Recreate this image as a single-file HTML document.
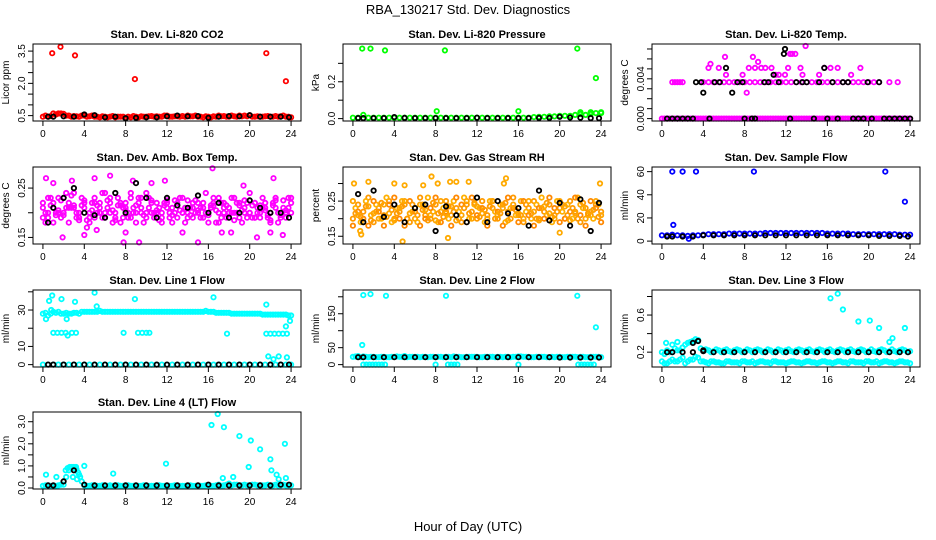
<!DOCTYPE html>
<html><head><meta charset="utf-8"><title>RBA_130217 Std. Dev. Diagnostics</title>
<style>
html,body{margin:0;padding:0;background:#fff;}
svg{display:block;font-family:"Liberation Sans",Arial,sans-serif;}
</style></head>
<body>
<svg id="chart" width="936" height="540" viewBox="0 0 936 540" xmlns="http://www.w3.org/2000/svg">
<rect x="0" y="0" width="936" height="540" fill="#fff"/>
<text x="468" y="14" text-anchor="middle" font-size="13">RBA_130217  Std. Dev. Diagnostics</text>
<text x="468" y="531" text-anchor="middle" font-size="13">Hour of Day (UTC)</text>
</svg>
<script>
// shared hour arrays
const hoursHalf = [0,0.5,1,1.5,2,2.5,3,3.5,4,4.5,5,5.5,6,6.5,7,7.5,8,8.5,9,9.5,10,10.5,11,11.5,12,12.5,13,13.5,14,14.5,15,15.5,16,16.5,17,17.5,18,18.5,19,19.5,20,20.5,21,21.5,22,22.5,23,23.5,24];
const hoursQ = [0.25,0.75,1.25,1.75,2.25,2.75,3.25,3.75,4.25,4.75,5.25,5.75,6.25,6.75,7.25,7.75,8.25,8.75,9.25,9.75,10.25,10.75,11.25,11.75,12.25,12.75,13.25,13.75,14.25,14.75,15.25,15.75,16.25,16.75,17.25,17.75,18.25,18.75,19.25,19.75,20.25,20.75,21.25,21.75,22.25,22.75,23.25,23.75];
const hoursHour = [0.5,1,2,3,4,5,6,7,8,9,10,11,12,13,14,15,16,17,18,19,20,21,22,23,23.8];
const xTicks = [0,4,8,12,16,20,24];

// P1 CO2
const co2Red = [0.45,0.45,0.6,0.6,0.58,0.5,0.48,0.45,0.5,0.47,0.45,0.42,0.45,0.45,0.42,0.45,0.4,0.42,0.45,0.47,0.45,0.48,0.47,0.45,0.5,0.45,0.47,0.48,0.5,0.47,0.45,0.42,0.45,0.47,0.5,0.48,0.45,0.47,0.5,0.5,0.52,0.45,0.45,0.47,0.45,0.48,0.47,0.45,0.42];
const co2Red2 = [0.5,0.48,0.55,0.6,0.5,0.45,0.47,0.5,0.45,0.5,0.45,0.47,0.42,0.48,0.45,0.45,0.45,0.48,0.42,0.45,0.47,0.45,0.45,0.5,0.45,0.47,0.45,0.45,0.47,0.5,0.45,0.47,0.42,0.45,0.47,0.45,0.5,0.45,0.47,0.47,0.45,0.47,0.45,0.48,0.45,0.45,0.5,0.45];
const co2OutX = [0.9,1.7,3.1,8.9,21.6,23.5];
const co2OutY = [3.4,3.7,3.3,2.2,3.4,2.1];
const co2Black = [0.45,0.45,0.47,0.45,0.55,0.52,0.42,0.45,0.38,0.4,0.42,0.42,0.47,0.5,0.47,0.48,0.4,0.45,0.48,0.47,0.52,0.45,0.45,0.45,0.42];

// P2 Pressure
const presGreen = [0.005,0.005,0.02,0.005,0.005,0.005,0.005,0.005,0.005,0.005,0.005,0.005,0.005,0.005,0.005,0.005,0.005,0.005,0.005,0.005,0.005,0.005,0.005,0.005,0.005,0.005,0.005,0.005,0.005,0.005,0.005,0.005,0.005,0.005,0.005,0.008,0.01,0.01,0.012,0.012,0.015,0.015,0.015,0.02,0.025,0.02,0.025,0.03,0.03];
const presOutX = [0.9,1.7,3.1,8.1,8.9,16,21.7,23.5,22,23,24];
const presOutY = [0.38,0.38,0.37,0.04,0.37,0.04,0.38,0.22,0.035,0.035,0.035];
const presBlack = [0.003,0.003,0.003,0.003,0.008,0.004,0.003,0.003,0.003,0.003,0.003,0.003,0.005,0.003,0.003,0.003,0.003,0.003,0.004,0.004,0.01,0.006,0.005,0.003,0.002];

// P3 Temp
const tempMagZero = [0,0,0,0,0,0,0,0,0,0,0,0,0,0,0,0,0,0,0,0,0,0,0,0,0,0,0,0,0,0,0,0,0,0,0,0,0,0,0,0,0,0,0,0,0,0,0,0,0];
const tempMagZeroQ = [0,0,0,0,0,0,0,0,0,0,0,0,0,0,0,0,0,0,0,0,0,0,0,0,0,0,0,0,0,0,0,0,0,0,0,0,0,0,0,0,0,0,0,0,0,0,0,0];
const tempMagMidX = [1,1.25,1.5,1.75,2,4,4.5,5,5.5,6,6.5,7,7.5,8,8.5,9,9.5,10,10.5,11,11.5,12,12.5,13,13.5,14,14.5,15,15.5,16,16.5,17,17.5,18,18.5,19,19.5,20,20.5,21,22,22.8];
const tempMagMidY = [0.00366,0.00366,0.00366,0.00366,0.00366,0.00366,0.00366,0.00366,0.00366,0.00366,0.00366,0.00366,0.00366,0.00366,0.00366,0.00366,0.00366,0.00366,0.00366,0.00366,0.00366,0.00366,0.00366,0.00366,0.00366,0.00366,0.00366,0.00366,0.00366,0.00366,0.00366,0.00366,0.00366,0.00366,0.00366,0.00366,0.00366,0.00366,0.00366,0.00366,0.00366,0.00366];
const tempMagOutX = [4.5,4.7,5.5,6.1,6.2,7.8,8.2,8.4,8.8,9,9.3,9.6,10,10.6,11,11.3,11.9,12.2,12.4,12.6,12.9,13.4,13.6,13.9,15.2,15.7,16.3,17,18.3,19.2];
const tempMagOutY = [0.0051,0.0055,0.0051,0.0062,0.0044,0.0044,0.0026,0.0051,0.0062,0.0051,0.0057,0.0051,0.0051,0.0051,0.0044,0.0044,0.0044,0.0051,0.0065,0.0065,0.0065,0.0051,0.0044,0.0073,0.0044,0.0051,0.0051,0.0051,0.0044,0.0051];
const tempBlackX = [0.5,1,1.5,2,2.5,3,3.3,3.8,4,4.6,5.1,5.6,6.2,6.8,7.3,7.8,8,8.7,9,9.9,10.3,10.8,11.3,11.8,11.9,12.4,13,13.6,14,14.7,15.2,15.7,16,16.5,17,17.5,18,18.5,19,19.5,19.9,20.3,21,21.5,22,22.5,23,23.5,24];
const tempBlackY = [0,0,0,0,0,0,0.00366,0.00366,0.0026,0,0.00366,0.00366,0.0051,0.0026,0.00366,0.00366,0,0,0,0.00366,0.00366,0.0044,0.00366,0.0065,0.0070,0,0.00366,0.00366,0.00366,0,0.00366,0.0051,0,0.00366,0,0.00366,0.00366,0,0,0,0.00366,0,0.00366,0,0,0,0,0,0];

// P4 Box temp
const boxMag1 = [0.21,0.19,0.22,0.2,0.23,0.18,0.21,0.2,0.22,0.19,0.23,0.21,0.19,0.22,0.2,0.18,0.22,0.24,0.2,0.21,0.19,0.22,0.2,0.18,0.22,0.21,0.19,0.23,0.2,0.21,0.22,0.19,0.2,0.22,0.18,0.21,0.2,0.23,0.19,0.21,0.2,0.22,0.19,0.21,0.2,0.23,0.19,0.2,0.22];
const boxMag2 = [0.18,0.23,0.2,0.19,0.24,0.21,0.19,0.23,0.17,0.22,0.2,0.24,0.21,0.18,0.23,0.21,0.19,0.2,0.22,0.18,0.23,0.19,0.21,0.22,0.19,0.2,0.23,0.18,0.21,0.2,0.19,0.24,0.21,0.18,0.22,0.19,0.23,0.2,0.18,0.22,0.19,0.21,0.23,0.19,0.22,0.18,0.21,0.23];
const boxMag3 = [0.22,0.2,0.18,0.23,0.2,0.21,0.24,0.19,0.21,0.18,0.22,0.2,0.24,0.2,0.19,0.22,0.21,0.23,0.18,0.2,0.24,0.2,0.22,0.19,0.21,0.18,0.22,0.2,0.19,0.22,0.2,0.21,0.18,0.23,0.2,0.22,0.19,0.2,0.22,0.2,0.24,0.19,0.2,0.22,0.18,0.21,0.2,0.19,0.23];
const boxMag4 = [0.2,0.215,0.195,0.225,0.21,0.235,0.2,0.215,0.185,0.205,0.215,0.19,0.225,0.205,0.215,0.19,0.2,0.21,0.23,0.195,0.21,0.2,0.185,0.215,0.2,0.225,0.205,0.21,0.195,0.225,0.21,0.2,0.215,0.205,0.19,0.215,0.2,0.22,0.205,0.19,0.215,0.2,0.21,0.195,0.215,0.2,0.225,0.21];
const boxMag5 = [0.19,0.23,0.21,0.205,0.195,0.22,0.215,0.185,0.225,0.2,0.19,0.22,0.2,0.23,0.185,0.215,0.205,0.19,0.215,0.23,0.2,0.225,0.205,0.2,0.225,0.195,0.215,0.2,0.225,0.19,0.205,0.22,0.195,0.215,0.23,0.2,0.21,0.185,0.215,0.225,0.2,0.19,0.215,0.205,0.185,0.225,0.195,0.205,0.2];
const boxOutX = [0.3,1,2.8,5,6.5,7.8,8.7,9.3,10.5,11.8,15,16.4,18.2,19.4,20.7,22.3,23.2,1.9,4,5.2,8,13.5,17.3,22];
const boxOutY = [0.27,0.26,0.265,0.27,0.275,0.14,0.265,0.14,0.26,0.265,0.14,0.29,0.16,0.255,0.15,0.27,0.155,0.15,0.155,0.165,0.16,0.16,0.16,0.16];
const boxBlack = [0.18,0.21,0.23,0.25,0.2,0.195,0.19,0.24,0.2,0.26,0.23,0.19,0.23,0.215,0.21,0.235,0.2,0.22,0.19,0.2,0.225,0.21,0.2,0.2,0.19];

// P5 RH
const rhOr1 = [0.2,0.24,0.22,0.26,0.19,0.23,0.21,0.25,0.2,0.22,0.24,0.19,0.23,0.26,0.21,0.2,0.24,0.22,0.25,0.21,0.23,0.19,0.24,0.22,0.2,0.25,0.21,0.23,0.2,0.24,0.22,0.26,0.21,0.19,0.23,0.25,0.2,0.22,0.24,0.21,0.23,0.2,0.25,0.22,0.19,0.23,0.21,0.24,0.22];
const rhOr2 = [0.23,0.19,0.25,0.21,0.24,0.2,0.26,0.19,0.23,0.25,0.2,0.22,0.19,0.24,0.26,0.22,0.19,0.23,0.2,0.25,0.22,0.26,0.2,0.24,0.23,0.19,0.25,0.22,0.24,0.19,0.23,0.21,0.25,0.22,0.2,0.24,0.26,0.21,0.19,0.25,0.22,0.24,0.2,0.26,0.23,0.21,0.2,0.24];
const rhOr3 = [0.18,0.22,0.2,0.18,0.25,0.22,0.18,0.24,0.26,0.2,0.18,0.25,0.22,0.18,0.2,0.23,0.26,0.19,0.22,0.18,0.26,0.24,0.19,0.26,0.21,0.23,0.18,0.25,0.22,0.18,0.26,0.23,0.19,0.25,0.21,0.18,0.23,0.2,0.26,0.23,0.19,0.2,0.22,0.26,0.21,0.18,0.25,0.23,0.19];
const rhOr4 = [0.215,0.205,0.235,0.195,0.22,0.245,0.205,0.225,0.215,0.235,0.2,0.24,0.21,0.225,0.195,0.245,0.215,0.205,0.235,0.22,0.2,0.23,0.215,0.245,0.205,0.225,0.235,0.2,0.215,0.245,0.2,0.225,0.21,0.24,0.215,0.2,0.23,0.245,0.205,0.22,0.24,0.21,0.23,0.2,0.245,0.215,0.225,0.205];
const rhOr5 = [0.25,0.21,0.19,0.235,0.215,0.2,0.24,0.215,0.195,0.23,0.25,0.215,0.2,0.24,0.225,0.21,0.195,0.25,0.215,0.235,0.195,0.21,0.25,0.2,0.235,0.215,0.2,0.25,0.21,0.23,0.195,0.24,0.215,0.2,0.25,0.22,0.195,0.235,0.215,0.2,0.25,0.235,0.195,0.215,0.24,0.2,0.22,0.25,0.21];
const rhOutX = [0.1,0.7,0.8,1.5,4,5,6.8,7.6,8.2,9.4,10,11.2,14.8,14.6,20,23.9,4.8,9.2];
const rhOutY = [0.3,0.165,0.155,0.305,0.3,0.295,0.295,0.32,0.3,0.305,0.305,0.305,0.315,0.3,0.16,0.3,0.135,0.145];
const rhBlack = [0.27,0.19,0.28,0.205,0.24,0.19,0.23,0.24,0.165,0.235,0.21,0.19,0.26,0.19,0.25,0.215,0.23,0.18,0.28,0.195,0.245,0.18,0.255,0.165,0.245];

// P6 Sample flow
const flowBlue = [5,5,5.5,5,5,4.5,5,5,5.5,6,6,6,6,6.5,6.5,6.5,6.5,6.5,6.5,6.5,7,7,7,7,7,7,7,7,7,7,7,7,6.5,6.5,6.5,6.5,6.5,6,6,6,6,6,6,6,6,6,5.5,5.5,5.5];
const flowOutX = [1,1.1,2,3.3,8.9,21.6,23.5,2.6];
const flowOutY = [60,14,60,60,60,60,34,2];
const flowBlack = [4,4,4,4,5,5,5,5,5,5,5,5,5,5,5,5,5,5,5,5,5,4.5,4.5,4.5,4];

// P7 Line1
const l1Cyan = [28,27,29,29,28,28,28.5,28,29,29,29,29.5,29,29,29,29,29,29,29,29,29,29,29,29,29,29,29,29,29,29,29,29,29,29,28.5,28.5,28.5,28,28,28,28,28,28,27.5,27.5,27.5,27.5,27.5,27];
const l1CyanQ = [28.5,28,28.5,28,28.5,28,28.5,29,29,29,29,29,29,29,29,29,29,29,29,29,29,29,29,29,29,29,29,29,29,29,29,29.5,29,28.5,28.5,28.5,28,28,28,28,28,28,27.5,27.5,27.5,27.5,27.5,27];
const l1MidX = [1,1.4,1.8,2.2,2.4,2.8,3.2,9.2,9.6,10,10.3,21.6,22,22.4,22.8,23.2,23.6];
const l1MidY = [17.5,17.5,17.5,17.5,16,17.5,17.5,17.5,17.5,17.5,17.5,17,17,17,17,17,17];
const l1OutX = [0.6,0.9,1.8,3.1,5,5.2,7.8,8.9,16.5,17.8,21.6,21.8,22.3,22.8,23.5,23.6,23.9,0.8,2.3,0.3];
const l1OutY = [35,38,36,34.5,39.5,32,17.5,36,37,17,33,4.5,3,4.5,21,4,24,30,25,25];
const l1Black = [0,0,0,0,0,0,0,0,0,0,0,0,0,0,0,0,0,0,0,0,0,0,0,0,0];
const l1CyanZero = [0,0,0,0,0,0,0,0,0,0,0,0,0,0,0,0,0,0,0,0,0,0,0,0,0,0,0,0,0,0,0,0,0,0,0,0,0,0,0,0,0,0,0,0,0,0,0,0,0];

// P8 Line2
const l2Cyan = [23,25,24,22,23,22,23,22,23,23,25,23,23,22,23,23,22,23,23,22,23,22,23,23,23,22,23,23,23,22,23,23,24,23,23,22,23,23,22,22,23,22,23,23,23,22,23,23,22];
const l2CyanQ = [24,22,23,23,22,23,22,23,24,23,22,23,23,23,22,23,23,22,23,24,23,22,23,23,22,23,23,22,23,23,22,23,24,23,22,23,23,22,23,23,22,23,23,22,23,22,23,23];
const l2ZeroX = [1,1.3,1.6,1.9,2.2,2.5,2.8,3.1,9.2,9.5,9.8,10.1,16,21.8,22.1,22.4,22.7,23,23.3,8];
const l2ZeroY = [0,0,0,0,0,0,0,0,0,0,0,0,0,0,0,0,0,0,0,0];
const l2OutX = [1,0.9,1.7,3.2,9,21.7,23.5];
const l2OutY = [205,58,208,203,203,203,110];
const l2Black = [22,22,22,22,22,22,22,22,22,22,22,22,22,22,22,22,22,22,22,22,21,21,21,21,21];

// P9 Line3
const l3Cyan = [0.2,0.22,0.2,0.22,0.25,0.3,0.32,0.33,0.22,0.22,0.21,0.22,0.22,0.21,0.22,0.22,0.21,0.22,0.22,0.22,0.21,0.22,0.21,0.22,0.22,0.21,0.22,0.22,0.22,0.21,0.22,0.22,0.22,0.21,0.22,0.22,0.22,0.21,0.22,0.22,0.21,0.21,0.22,0.22,0.21,0.21,0.22,0.22,0.21];
const l3CyanQ = [0.18,0.2,0.24,0.22,0.28,0.31,0.34,0.24,0.23,0.2,0.23,0.2,0.23,0.2,0.23,0.2,0.23,0.2,0.23,0.2,0.23,0.2,0.23,0.2,0.23,0.2,0.23,0.2,0.23,0.2,0.23,0.2,0.23,0.2,0.23,0.2,0.23,0.2,0.23,0.2,0.23,0.2,0.23,0.2,0.23,0.2,0.23,0.2];
const l3Low = [0.08,0.1,0.1,0.12,0.08,0.12,0.15,0.1,0.09,0.1,0.09,0.08,0.1,0.09,0.09,0.1,0.09,0.1,0.09,0.1,0.09,0.1,0.09,0.09,0.09,0.1,0.09,0.09,0.1,0.09,0.09,0.1,0.09,0.09,0.1,0.09,0.1,0.09,0.09,0.1,0.09,0.1,0.09,0.1,0.09,0.09,0.1,0.09];
const l3Low2 = [0.1,0.08,0.12,0.1,0.14,0.1,0.12,0.14,0.1,0.08,0.1,0.09,0.08,0.1,0.09,0.08,0.1,0.09,0.08,0.1,0.09,0.08,0.1,0.09,0.08,0.1,0.09,0.08,0.1,0.09,0.08,0.1,0.09,0.08,0.1,0.09,0.08,0.1,0.09,0.08,0.1,0.09,0.08,0.1,0.09,0.08,0.1,0.09,0.08];
const l3OutX = [16.3,17,17.5,19,20.1,21,22,22.3,23.5,0.4,1,1.5];
const l3OutY = [0.78,0.83,0.66,0.53,0.54,0.46,0.31,0.35,0.46,0.3,0.28,0.31];
const l3Black = [0.2,0.2,0.2,0.2,0.21,0.2,0.2,0.2,0.2,0.2,0.2,0.2,0.2,0.2,0.2,0.2,0.2,0.2,0.2,0.2,0.2,0.2,0.2,0.2,0.2];
const l3BlackX = [3,3.5,4];
const l3BlackY = [0.3,0.32,0.22];

// P10 Line4
const l4Cyan = [0.1,0.12,0.1,0.12,0.15,0.8,0.95,0.6,0.12,0.1,0.12,0.1,0.1,0.12,0.12,0.1,0.1,0.1,0.1,0.1,0.1,0.1,0.1,0.1,0.1,0.1,0.1,0.1,0.1,0.1,0.1,0.1,0.12,0.1,0.15,0.12,0.2,0.15,0.12,0.15,0.12,0.15,0.12,0.12,0.1,0.15,0.12,0.12,0.12];
const l4CyanQ = [0.12,0.1,0.1,0.15,0.5,0.9,0.85,0.3,0.1,0.12,0.1,0.12,0.1,0.1,0.12,0.1,0.12,0.1,0.1,0.12,0.1,0.1,0.12,0.1,0.1,0.12,0.1,0.1,0.12,0.1,0.1,0.12,0.1,0.12,0.1,0.15,0.12,0.15,0.12,0.12,0.15,0.12,0.12,0.15,0.12,0.12,0.15,0.12];
const l4ClX = [2.2,2.4,2.6,2.8,3,3.2,3.4,3.6,2.9,3.3];
const l4ClY = [0.8,0.9,0.95,0.95,0.9,0.95,0.7,0.5,0.5,0.4];
const l4OutX = [0.3,1.3,4,6.8,11.9,16.3,16.9,17.4,17.5,18.4,19,19.9,20.1,21,22,22.1,22.6,22.8,23.4,23.5];
const l4OutY = [0.6,0.5,1.0,0.65,1.1,2.85,3.35,0.45,2.75,0.5,2.35,0.95,2.15,1.75,1.3,0.8,0.6,0.4,2.0,0.45];
const l4Black = [0.12,0.12,0.3,0.8,0.15,0.12,0.12,0.12,0.12,0.12,0.12,0.12,0.12,0.12,0.12,0.12,0.15,0.12,0.12,0.12,0.12,0.12,0.12,0.15,0.15];

const svg = document.getElementById('chart');
const NS = 'http://www.w3.org/2000/svg';
const colLeft = [33, 343, 652];
const rowTop = [44, 167, 290, 412];
const boxW = 268, boxH = 77;

function mk(tag, attrs, parent){
  const e = document.createElementNS(NS, tag);
  for (const k in attrs) e.setAttribute(k, attrs[k]);
  parent.appendChild(e);
  return e;
}

function panel(cfg){
  const L = colLeft[cfg.col], T = rowTop[cfg.row];
  const g = mk('g', {}, svg);
  
  
  const xs = v => L + (v + 0.96) / 25.92 * boxW;
  const ys = v => T + boxH - (v - cfg.ylo) / (cfg.yhi - cfg.ylo) * boxH;
  const t = mk('text', {x: L + boxW/2, y: T - 6, 'text-anchor': 'middle', 'font-size': 11, 'font-weight': 'bold'}, g);
  t.textContent = cfg.title;
  
  
  const yl = mk('text', {x: 0, y: 0, 'text-anchor': 'middle', 'font-size': 10, transform: `translate(${L-24},${T+boxH/2}) rotate(-90)`}, g);
  yl.textContent = cfg.ylab;
  
  
  cfg.series.forEach(s => {
    const sg = mk('g', {fill: 'none', stroke: s.c, 'stroke-width': 1.8}, g);
    
    
    s.x.forEach((xv, i) => {
      const c = mk('circle', {cx: xs(xv).toFixed(1), cy: ys(s.y[i]).toFixed(1), r: 2.2}, sg);
      
      
    });
  });
  const b = mk('rect', {x: L, y: T, width: boxW, height: boxH, fill: 'none', stroke: '#000', 'stroke-width': 1}, g);
  
  
  const xa = mk('g', {stroke: '#000', 'stroke-width': 1}, g);
  
  
  mk('line', {x1: xs(0), x2: xs(24), y1: T+boxH, y2: T+boxH}, xa);
  xTicks.forEach(v => {
    mk('line', {x1: xs(v), x2: xs(v), y1: T+boxH, y2: T+boxH+5}, xa);
    const tl = mk('text', {x: xs(v), y: T+boxH+16, 'text-anchor': 'middle', 'font-size': 10, stroke: 'none', fill: '#000'}, xa);
    tl.textContent = v;
    
    
  });
  const ya = mk('g', {stroke: '#000', 'stroke-width': 1}, g);
  
  
  const tk = cfg.ticks;
  mk('line', {x1: L, x2: L, y1: ys(tk[0]), y2: ys(tk[tk.length-1])}, ya);
  tk.forEach(v => mk('line', {x1: L-5, x2: L, y1: ys(v), y2: ys(v)}, ya));
  cfg.labels.forEach(v => {
    const tl = mk('text', {x: 0, y: 0, 'text-anchor': 'middle', 'font-size': 10, stroke: 'none', fill: '#000', transform: `translate(${L-8},${ys(v)}) rotate(-90)`}, ya);
    tl.textContent = v;
    
    
  });
}

panel({name:'panel-co2', col:0,row:0,title:'Stan. Dev. Li-820 CO2',ylab:'Licor ppm',ylo:0.25,yhi:3.83,
  ticks:[0.5,1,1.5,2,2.5,3,3.5],labels:['0.5','2.0','3.5'],
  series:[{n:'co2-red',c:'#ff0000',x:hoursHalf,y:co2Red},{n:'co2-red-2',c:'#ff0000',x:hoursQ,y:co2Red2},
          {n:'co2-outliers',c:'#ff0000',x:co2OutX,y:co2OutY},{n:'co2-black',c:'#000',x:hoursHour,y:co2Black}]});
panel({name:'panel-pressure', col:1,row:0,title:'Stan. Dev. Li-820 Pressure',ylab:'kPa',ylo:-0.013,yhi:0.405,
  ticks:[0,0.1,0.2,0.3],labels:['0.0','0.2'],
  series:[{n:'pressure-green',c:'#00ff00',x:hoursHalf,y:presGreen},{n:'pressure-outliers',c:'#00ff00',x:presOutX,y:presOutY},
          {n:'pressure-black',c:'#000',x:hoursHour,y:presBlack}]});
panel({name:'panel-temp', col:2,row:0,title:'Stan. Dev. Li-820 Temp.',ylab:'degrees C',ylo:-0.00024,yhi:0.0075,
  ticks:[0,0.001,0.002,0.003,0.004,0.005,0.006,0.007],labels:['0.000','0.004'],
  series:[{n:'temp-magenta-zero',c:'#ff00ff',x:hoursHalf,y:tempMagZero},{n:'temp-magenta-zero-q',c:'#ff00ff',x:hoursQ,y:tempMagZeroQ},
          {n:'temp-magenta-mid',c:'#ff00ff',x:tempMagMidX,y:tempMagMidY},
          {n:'temp-magenta-outliers',c:'#ff00ff',x:tempMagOutX,y:tempMagOutY},{n:'temp-black',c:'#000',x:tempBlackX,y:tempBlackY}]});
panel({name:'panel-box-temp', col:0,row:1,title:'Stan. Dev. Amb. Box Temp.',ylab:'degrees C',ylo:0.1367,yhi:0.2927,
  ticks:[0.15,0.2,0.25],labels:['0.15','0.25'],
  series:[{n:'box-magenta-1',c:'#ff00ff',x:hoursHalf,y:boxMag1},{n:'box-magenta-2',c:'#ff00ff',x:hoursQ,y:boxMag2},
          {n:'box-magenta-3',c:'#ff00ff',x:hoursHalf,y:boxMag3},{n:'box-magenta-4',c:'#ff00ff',x:hoursQ,y:boxMag4},
          {n:'box-magenta-5',c:'#ff00ff',x:hoursHalf,y:boxMag5},{n:'box-magenta-outliers',c:'#ff00ff',x:boxOutX,y:boxOutY},
          {n:'box-black',c:'#000',x:hoursHour,y:boxBlack}]});
panel({name:'panel-rh', col:1,row:1,title:'Stan. Dev. Gas Stream RH',ylab:'percent',ylo:0.128,yhi:0.347,
  ticks:[0.15,0.2,0.25,0.3],labels:['0.15','0.25'],
  series:[{n:'rh-orange-1',c:'#ff9a00',x:hoursHalf,y:rhOr1},{n:'rh-orange-2',c:'#ffb000',x:hoursQ,y:rhOr2},
          {n:'rh-orange-3',c:'#ff8800',x:hoursHalf,y:rhOr3},{n:'rh-orange-4',c:'#ff9a00',x:hoursQ,y:rhOr4},
          {n:'rh-orange-5',c:'#ffa500',x:hoursHalf,y:rhOr5},{n:'rh-outliers',c:'#ffaa00',x:rhOutX,y:rhOutY},
          {n:'rh-black',c:'#000',x:hoursHour,y:rhBlack}]});
panel({name:'panel-sample-flow', col:2,row:1,title:'Stan. Dev. Sample Flow',ylab:'ml/min',ylo:-2.5,yhi:64,
  ticks:[0,20,40,60],labels:['0','20','40','60'],
  series:[{n:'sample-blue',c:'#0000ff',x:hoursHalf,y:flowBlue},{n:'sample-blue-outliers',c:'#0000ff',x:flowOutX,y:flowOutY},
          {n:'sample-black',c:'#000',x:hoursHour,y:flowBlack}]});
panel({name:'panel-line1', col:0,row:2,title:'Stan. Dev. Line 1 Flow',ylab:'ml/min',ylo:-1.3,yhi:41,
  ticks:[0,10,20,30,40],labels:['0','10','30'],
  series:[{n:'line1-cyan',c:'#00ffff',x:hoursHalf,y:l1Cyan},{n:'line1-cyan-q',c:'#00ffff',x:hoursQ,y:l1CyanQ},
          {n:'line1-cyan-mid',c:'#00ffff',x:l1MidX,y:l1MidY},
          {n:'line1-cyan-zero',c:'#00ffff',x:hoursHalf,y:l1CyanZero},{n:'line1-outliers',c:'#00ffff',x:l1OutX,y:l1OutY},
          {n:'line1-black',c:'#000',x:hoursHour,y:l1Black}]});
panel({name:'panel-line2', col:1,row:2,title:'Stan. Dev. Line 2 Flow',ylab:'ml/min',ylo:-7,yhi:220,
  ticks:[0,50,100,150,200],labels:['0','50','150'],
  series:[{n:'line2-cyan',c:'#00ffff',x:hoursHalf,y:l2Cyan},{n:'line2-cyan-q',c:'#00ffff',x:hoursQ,y:l2CyanQ},
          {n:'line2-cyan-zero',c:'#00ffff',x:l2ZeroX,y:l2ZeroY},
          {n:'line2-outliers',c:'#00ffff',x:l2OutX,y:l2OutY},{n:'line2-black',c:'#000',x:hoursHour,y:l2Black}]});
panel({name:'panel-line3', col:2,row:2,title:'Stan. Dev. Line 3 Flow',ylab:'ml/min',ylo:0.04,yhi:0.87,
  ticks:[0.2,0.4,0.6,0.8],labels:['0.2','0.6'],
  series:[{n:'line3-cyan',c:'#00ffff',x:hoursHalf,y:l3Cyan},{n:'line3-cyan-q',c:'#00ffff',x:hoursQ,y:l3CyanQ},
          {n:'line3-cyan-low',c:'#00ffff',x:hoursQ,y:l3Low},{n:'line3-cyan-low-2',c:'#00ffff',x:hoursHalf,y:l3Low2},
          {n:'line3-outliers',c:'#00ffff',x:l3OutX,y:l3OutY},{n:'line3-black',c:'#000',x:hoursHour,y:l3Black},
          {n:'line3-black-extra',c:'#000',x:l3BlackX,y:l3BlackY}]});
panel({name:'panel-line4', col:0,row:3,title:'Stan. Dev. Line 4 (LT) Flow',ylab:'ml/min',ylo:-0.045,yhi:3.44,
  ticks:[0,0.5,1,1.5,2,2.5,3],labels:['0.0','1.0','2.0','3.0'],
  series:[{n:'line4-cyan',c:'#00ffff',x:hoursHalf,y:l4Cyan},{n:'line4-cyan-q',c:'#00ffff',x:hoursQ,y:l4CyanQ},
          {n:'line4-cluster',c:'#00ffff',x:l4ClX,y:l4ClY},
          {n:'line4-outliers',c:'#00ffff',x:l4OutX,y:l4OutY},{n:'line4-black',c:'#000',x:hoursHour,y:l4Black}]});
</script>
</body></html>
